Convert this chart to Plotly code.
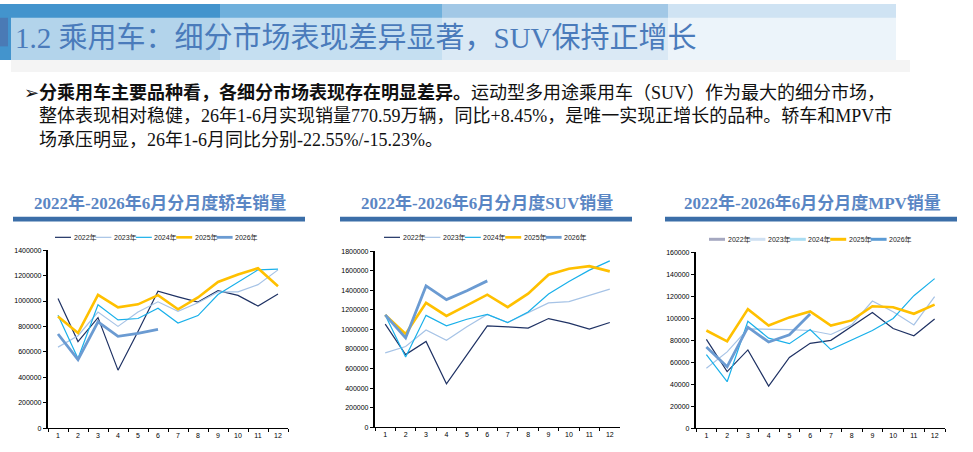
import plotly.graph_objects as go

# 月份与年份
months = [str(m) for m in range(1, 13)]
years = ['2022年', '2023年', '2024年', '2025年', '2026年']

# 轿车月度销量
sedan_2022 = [1020000, 682000, 870000, 457000, 760000, 1077000, 1033000, 992000, 1082000, 1044000, 961000, 1056000]
sedan_2023 = [638000, 728000, 914000, 801000, 914000, 994000, 920000, 987000, 1072000, 1072000, 1129000, 1245000]
sedan_2024 = [889000, 548000, 971000, 852000, 863000, 943000, 827000, 886000, 1051000, 1147000, 1245000, 1250000]
sedan_2025 = [878000, 749000, 1049000, 951000, 974000, 1046000, 935000, 1028000, 1150000, 1209000, 1258000, 1116000]
sedan_2026 = [741000, 540000, 837000, 723000, 746000, 778000]

# SUV月度销量
suv_2022 = [1054000, 743000, 877000, 445000, 740000, 1037000, 1027000, 1014000, 1111000, 1064000, 1004000, 1071000]
suv_2023 = [760000, 826000, 994000, 890000, 1027000, 1154000, 1071000, 1171000, 1271000, 1285000, 1348000, 1412000]
suv_2024 = [1148000, 719000, 1144000, 1037000, 1104000, 1154000, 1071000, 1178000, 1362000, 1489000, 1606000, 1700000]
suv_2025 = [1148000, 953000, 1271000, 1138000, 1245000, 1355000, 1228000, 1365000, 1559000, 1619000, 1646000, 1593000]
suv_2026 = [1148000, 913000, 1445000, 1305000, 1395000, 1496000]

# MPV月度销量
mpv_2022 = [80700, 51500, 71200, 38400, 64400, 77200, 79900, 92400, 105200, 90600, 84000, 99200]
mpv_2023 = [54500, 69400, 90300, 90300, 89700, 88800, 85200, 93900, 115600, 105800, 93900, 119500]
mpv_2024 = [67000, 42300, 97100, 81900, 76900, 89700, 71500, 80200, 88800, 99800, 120400, 135900]
mpv_2025 = [88800, 79000, 108200, 93300, 100700, 106100, 93300, 98000, 110800, 109900, 104000, 112300]
mpv_2026 = [73900, 56000, 91800, 78400, 84900, 103700]

W, H = 973, 452


def fx(p):
    return p / W


def fy(p):
    return 1 - p / H


line_colors = ['#1f3264', '#a6c3e6', '#19b0ea', '#ffc000', '#6b9bd2']
line_widths = [1.2, 1.2, 1.2, 2.6, 2.8]

panels = [
    dict(series=[sedan_2022, sedan_2023, sedan_2024, sedan_2025, sedan_2026],
         title='2022年-2026年6月分月度轿车销量', xd=(48, 288), yd=(250, 431),
         ymax=1400000, dtick=200000, bar=(13, 305), title_x=160, leg_x=55, leg_y=237,
         leg_colors=line_colors, leg_widths=line_widths),
    dict(series=[suv_2022, suv_2023, suv_2024, suv_2025, suv_2026],
         title='2022年-2026年6月分月度SUV销量', xd=(375, 620), yd=(251, 430),
         ymax=1800000, dtick=200000, bar=(340, 632), title_x=487, leg_x=384, leg_y=237,
         leg_colors=line_colors, leg_widths=line_widths),
    dict(series=[mpv_2022, mpv_2023, mpv_2024, mpv_2025, mpv_2026],
         title='2022年-2026年6月分月度MPV销量', xd=(696, 945), yd=(252, 431),
         ymax=160000, dtick=20000, bar=(665, 957), title_x=812, leg_x=709, leg_y=239,
         leg_colors=['#a5a8c0', '#cfe0f2', '#a9dcf2', '#ffc000', '#5b9bd5'],
         leg_widths=[3, 3, 3, 3, 3]),
]

fig = go.Figure()
shapes = []
annotations = []
serif = 'Liberation Serif, Noto Sans CJK SC, serif'
sans = 'Liberation Sans, Arial, sans-serif'

for i, p in enumerate(panels):
    n = '' if i == 0 else str(i + 1)
    for k, vals in enumerate(p['series']):
        fig.add_trace(go.Scatter(
            x=months[:len(vals)], y=vals, mode='lines', name=years[k],
            line=dict(color=line_colors[k], width=line_widths[k]),
            xaxis='x' + n, yaxis='y' + n, showlegend=False))
    fig.update_layout(**{
        'xaxis' + n: dict(
            domain=[fx(p['xd'][0]), fx(p['xd'][1])], anchor='y' + n,
            type='category', categoryorder='array', categoryarray=months,
            range=[-0.5, 11.5], tickson='boundaries', ticks='outside', ticklen=3,
            tickcolor='black', showline=True, linecolor='black', linewidth=1,
            showgrid=False, tickfont=dict(family=sans, size=7, color='black')),
        'yaxis' + n: dict(
            domain=[fy(p['yd'][1]), fy(p['yd'][0])], anchor='x' + n,
            range=[0, p['ymax']], dtick=p['dtick'], tickformat='d',
            ticks='outside', ticklen=3, tickcolor='black', showline=True,
            linecolor='black', linewidth=2.2, showgrid=False, zeroline=False,
            tickfont=dict(family=sans, size=7, color='black')),
    })
    # 小标题与下方色条
    annotations.append(dict(
        text='<b>' + p['title'] + '</b>', x=fx(p['title_x']), y=fy(202),
        xref='paper', yref='paper', xanchor='center', yanchor='middle',
        showarrow=False, font=dict(family=serif, size=17, color='#5a86c4')))
    shapes.append(dict(type='rect', xref='paper', yref='paper',
                       x0=fx(p['bar'][0]), x1=fx(p['bar'][1]), y0=fy(221), y1=fy(216),
                       fillcolor='#3b6ea8', line=dict(width=0)))
    # 图例（手绘）
    for k in range(5):
        x0 = p['leg_x'] + 40.4 * k
        shapes.append(dict(type='line', xref='paper', yref='paper',
                           x0=fx(x0), x1=fx(x0 + 16), y0=fy(p['leg_y']), y1=fy(p['leg_y']),
                           line=dict(color=p['leg_colors'][k], width=p['leg_widths'][k])))
        annotations.append(dict(
            text=years[k], x=fx(x0 + 16.5), y=fy(p['leg_y']), xref='paper', yref='paper',
            xanchor='left', yanchor='middle', showarrow=False,
            font=dict(family='Liberation Sans, Noto Sans CJK SC', size=7, color='#222222')))

# 页眉色块
for x0, x1, c in [(0, 220, '#4394cd'), (220, 442, '#6fb0dc'),
                  (442, 668, '#a2c8e6'), (668, 896, '#cfe3f3')]:
    shapes.append(dict(type='rect', xref='paper', yref='paper', layer='below',
                       x0=fx(x0), x1=fx(x1), y0=fy(57), y1=fy(0),
                       fillcolor=c, line=dict(width=0)))
shapes.append(dict(type='rect', xref='paper', yref='paper', layer='below',
                   x0=fx(0), x1=fx(8), y0=fy(43), y1=fy(14),
                   fillcolor='#4a7ab5', line=dict(width=0)))
shapes.append(dict(type='rect', xref='paper', yref='paper', layer='below',
                   x0=fx(11), x1=fx(896), y0=fy(57), y1=fy(14),
                   fillcolor='rgba(255,255,255,0.6)', line=dict(width=0)))
shapes.append(dict(type='rect', xref='paper', yref='paper', layer='below',
                   x0=fx(11), x1=fx(910), y0=fy(69), y1=fy(57),
                   fillcolor='#f4f4f4', line=dict(width=0)))

annotations.append(dict(
    text='1.2 乘用车：细分市场表现差异显著，SUV保持正增长', x=fx(13), y=fy(35),
    xref='paper', yref='paper', xanchor='left', yanchor='middle', showarrow=False,
    font=dict(family=serif, size=29, color='#4a7bbb')))

# 正文（一个文本块，后两行用透明箭头占位缩进）
indent = '<span style="color:rgba(0,0,0,0)">➢</span>'
body = ('➢<b>分乘用车主要品种看，各细分市场表现存在明显差异。</b>运动型多用途乘用车（SUV）作为最大的细分市场，<br>'
        + indent + '整体表现相对稳健，26年1-6月实现销量770.59万辆，同比+8.45%，是唯一实现正增长的品种。轿车和MPV市<br>'
        + indent + '场承压明显，26年1-6月同比分别-22.55%/-15.23%。')
annotations.append(dict(
    text=body, x=fx(22), y=fy(114), xref='paper', yref='paper',
    xanchor='left', yanchor='middle', align='left', showarrow=False,
    font=dict(family=serif, size=18, color='#111111')))

fig.update_layout(
    width=W, height=H,
    margin=dict(l=0, r=0, t=0, b=0),
    paper_bgcolor='white', plot_bgcolor='white',
    showlegend=False,
    shapes=shapes, annotations=annotations,
)

# 去掉页面默认边距，让图从左上角开始
fig.write_html('out.html', config={'displayModeBar': False},
               post_script="document.body.style.margin='0';")
